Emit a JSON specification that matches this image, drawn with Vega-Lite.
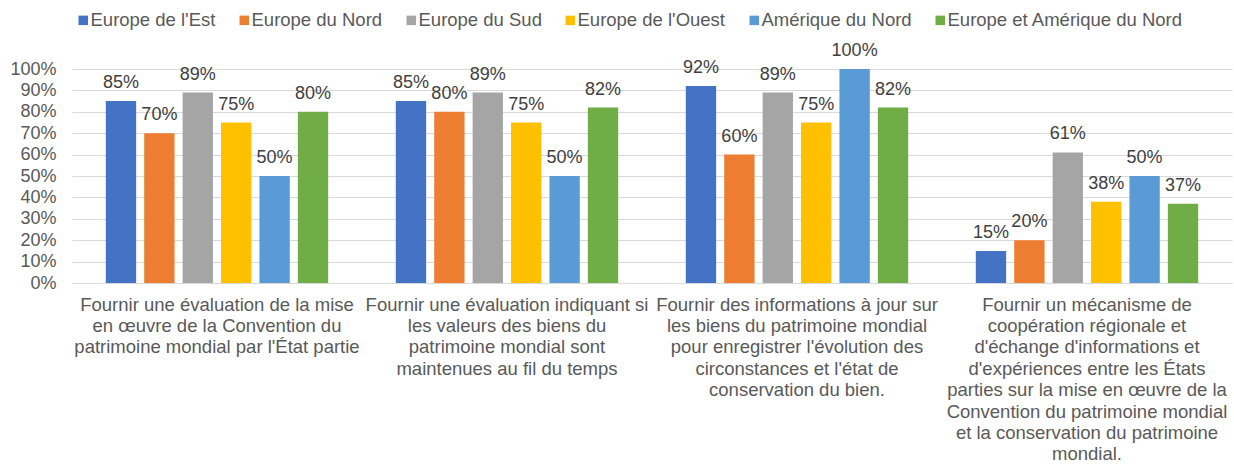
{
  "$schema": "https://vega.github.io/schema/vega-lite/v6.json",
  "width": 1160,
  "height": 214,
  "autosize": {"type": "none"},
  "padding": {"left": 72, "top": 69, "right": 2, "bottom": 181},
  "background": "white",
  "config": {"view": {"stroke": null}, "font": "Liberation Sans"},
  "data": {
    "values": [
      {"cat": "Fournir une évaluation de la mise|en œuvre de la Convention du|patrimoine mondial par l'État partie", "region": "Europe de l'Est", "value": 0.85},
      {"cat": "Fournir une évaluation de la mise|en œuvre de la Convention du|patrimoine mondial par l'État partie", "region": "Europe du Nord", "value": 0.70},
      {"cat": "Fournir une évaluation de la mise|en œuvre de la Convention du|patrimoine mondial par l'État partie", "region": "Europe du Sud", "value": 0.89},
      {"cat": "Fournir une évaluation de la mise|en œuvre de la Convention du|patrimoine mondial par l'État partie", "region": "Europe de l'Ouest", "value": 0.75},
      {"cat": "Fournir une évaluation de la mise|en œuvre de la Convention du|patrimoine mondial par l'État partie", "region": "Amérique du Nord", "value": 0.50},
      {"cat": "Fournir une évaluation de la mise|en œuvre de la Convention du|patrimoine mondial par l'État partie", "region": "Europe et Amérique du Nord", "value": 0.80},
      {"cat": "Fournir une évaluation indiquant si|les valeurs des biens du|patrimoine mondial sont|maintenues au fil du temps", "region": "Europe de l'Est", "value": 0.85},
      {"cat": "Fournir une évaluation indiquant si|les valeurs des biens du|patrimoine mondial sont|maintenues au fil du temps", "region": "Europe du Nord", "value": 0.80},
      {"cat": "Fournir une évaluation indiquant si|les valeurs des biens du|patrimoine mondial sont|maintenues au fil du temps", "region": "Europe du Sud", "value": 0.89},
      {"cat": "Fournir une évaluation indiquant si|les valeurs des biens du|patrimoine mondial sont|maintenues au fil du temps", "region": "Europe de l'Ouest", "value": 0.75},
      {"cat": "Fournir une évaluation indiquant si|les valeurs des biens du|patrimoine mondial sont|maintenues au fil du temps", "region": "Amérique du Nord", "value": 0.50},
      {"cat": "Fournir une évaluation indiquant si|les valeurs des biens du|patrimoine mondial sont|maintenues au fil du temps", "region": "Europe et Amérique du Nord", "value": 0.82},
      {"cat": "Fournir des informations à jour sur|les biens du patrimoine mondial|pour enregistrer l'évolution des|circonstances et l'état de|conservation du bien.", "region": "Europe de l'Est", "value": 0.92},
      {"cat": "Fournir des informations à jour sur|les biens du patrimoine mondial|pour enregistrer l'évolution des|circonstances et l'état de|conservation du bien.", "region": "Europe du Nord", "value": 0.60},
      {"cat": "Fournir des informations à jour sur|les biens du patrimoine mondial|pour enregistrer l'évolution des|circonstances et l'état de|conservation du bien.", "region": "Europe du Sud", "value": 0.89},
      {"cat": "Fournir des informations à jour sur|les biens du patrimoine mondial|pour enregistrer l'évolution des|circonstances et l'état de|conservation du bien.", "region": "Europe de l'Ouest", "value": 0.75},
      {"cat": "Fournir des informations à jour sur|les biens du patrimoine mondial|pour enregistrer l'évolution des|circonstances et l'état de|conservation du bien.", "region": "Amérique du Nord", "value": 1.00},
      {"cat": "Fournir des informations à jour sur|les biens du patrimoine mondial|pour enregistrer l'évolution des|circonstances et l'état de|conservation du bien.", "region": "Europe et Amérique du Nord", "value": 0.82},
      {"cat": "Fournir un mécanisme de|coopération régionale et|d'échange d'informations et|d'expériences entre les États|parties sur la mise en œuvre de la|Convention du patrimoine mondial|et la conservation du patrimoine|mondial.", "region": "Europe de l'Est", "value": 0.15},
      {"cat": "Fournir un mécanisme de|coopération régionale et|d'échange d'informations et|d'expériences entre les États|parties sur la mise en œuvre de la|Convention du patrimoine mondial|et la conservation du patrimoine|mondial.", "region": "Europe du Nord", "value": 0.20},
      {"cat": "Fournir un mécanisme de|coopération régionale et|d'échange d'informations et|d'expériences entre les États|parties sur la mise en œuvre de la|Convention du patrimoine mondial|et la conservation du patrimoine|mondial.", "region": "Europe du Sud", "value": 0.61},
      {"cat": "Fournir un mécanisme de|coopération régionale et|d'échange d'informations et|d'expériences entre les États|parties sur la mise en œuvre de la|Convention du patrimoine mondial|et la conservation du patrimoine|mondial.", "region": "Europe de l'Ouest", "value": 0.38},
      {"cat": "Fournir un mécanisme de|coopération régionale et|d'échange d'informations et|d'expériences entre les États|parties sur la mise en œuvre de la|Convention du patrimoine mondial|et la conservation du patrimoine|mondial.", "region": "Amérique du Nord", "value": 0.50},
      {"cat": "Fournir un mécanisme de|coopération régionale et|d'échange d'informations et|d'expériences entre les États|parties sur la mise en œuvre de la|Convention du patrimoine mondial|et la conservation du patrimoine|mondial.", "region": "Europe et Amérique du Nord", "value": 0.37}
    ]
  },
  "encoding": {
    "x": {
      "field": "cat", "type": "nominal", "sort": null,
      "scale": {"paddingInner": 0, "paddingOuter": 0},
      "axis": {
        "title": null, "labelAngle": 0, "ticks": false, "domainColor": "#D9D9D9",
        "labelFontSize": 18.5, "labelLineHeight": 21.4, "labelPadding": 12,
        "labelExpr": "split(datum.label, '|')", "labelLimit": 1000,
        "labelOverlap": false, "labelBound": false, "labelColor": "#595959",
        "labelBaseline": "top", "labelFont": "Liberation Sans"
      }
    },
    "xOffset": {
      "field": "region", "type": "nominal",
      "sort": ["Europe de l'Est", "Europe du Nord", "Europe du Sud", "Europe de l'Ouest", "Amérique du Nord", "Europe et Amérique du Nord"],
      "scale": {"paddingInner": 0.21, "paddingOuter": 0.88}
    },
    "y": {
      "field": "value", "type": "quantitative",
      "scale": {"domain": [0, 1], "nice": false},
      "axis": {
        "title": null, "values": [0, 0.1, 0.2, 0.3, 0.4, 0.5, 0.6, 0.7, 0.8, 0.9, 1],
        "format": ".0%", "domain": false, "ticks": false, "labelPadding": 16,
        "gridColor": "#D9D9D9", "labelFontSize": 18, "labelColor": "#595959",
        "labelFont": "Liberation Sans"
      }
    }
  },
  "layer": [
    {
      "mark": {"type": "bar"},
      "encoding": {
        "color": {
          "field": "region", "type": "nominal",
          "scale": {
            "domain": ["Europe de l'Est", "Europe du Nord", "Europe du Sud", "Europe de l'Ouest", "Amérique du Nord", "Europe et Amérique du Nord"],
            "range": ["#4472C4", "#ED7D31", "#A5A5A5", "#FFC000", "#5B9BD5", "#70AD47"]
          },
          "legend": {
            "orient": "none", "legendX": 2, "legendY": -58, "direction": "horizontal",
            "columns": 6, "title": null, "symbolType": "square", "symbolSize": 90,
            "symbolStrokeWidth": 0, "labelFontSize": 18.5, "labelFont": "Liberation Sans",
            "labelColor": "#595959", "columnPadding": 19, "labelOffset": -2, "labelLimit": 500
          }
        }
      }
    },
    {
      "mark": {"type": "text", "baseline": "alphabetic", "dy": -13, "fontSize": 18, "font": "Liberation Sans", "color": "#404040"},
      "encoding": {
        "text": {"field": "value", "type": "quantitative", "format": ".0%"}
      }
    }
  ]
}
